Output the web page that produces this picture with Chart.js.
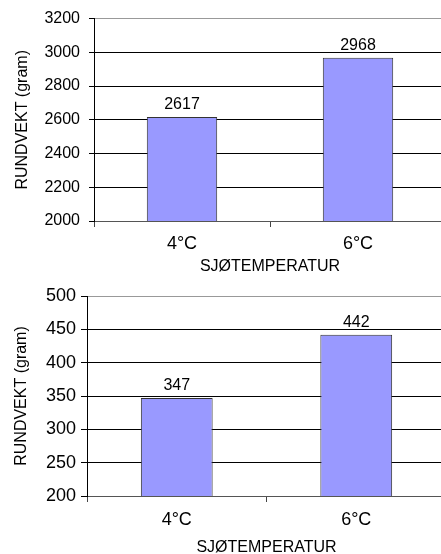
<!DOCTYPE html>
<html>
<head>
<meta charset="utf-8">
<script src="https://cdn.jsdelivr.net/npm/chart.js@4"></script>
<style>
  html, body { margin: 0; padding: 0; background: #fff; overflow: hidden; width: 441px; height: 554px; }
  .box { position: absolute; left: 0; width: 446px; }
  #box1 { top: 0; height: 277px; }
  #box2 { top: 277px; height: 280px; }
</style>
</head>
<body>
<div class="box" id="box1"><canvas id="chartTop"></canvas></div>
<div class="box" id="box2"><canvas id="chartBottom"></canvas></div>
<script>
// Data
var categories = ['4°C', '6°C'];
var weightTop = [2617, 2968];
var weightBottom = [347, 442];
var yTicksTop = [2000, 2200, 2400, 2600, 2800, 3000, 3200];
var yTicksBottom = [200, 250, 300, 350, 400, 450, 500];

var xTitle = 'SJØTEMPERATUR';
var yTitle = 'RUNDVEKT (gram)';

Chart.defaults.font.family = "'Liberation Sans', Arial, sans-serif";
Chart.defaults.color = '#000';

// Draws the value above every bar
var barValues = {
    id: 'barValues',
    afterDatasetsDraw: function(chart, args, opts) {
        var ctx = chart.ctx;
        var meta = chart.getDatasetMeta(0);
        var values = chart.data.datasets[0].data;
        ctx.save();
        ctx.font = opts.size + "px 'Liberation Sans', Arial, sans-serif";
        ctx.fillStyle = '#000';
        ctx.textAlign = 'center';
        ctx.textBaseline = 'alphabetic';
        meta.data.forEach(function(bar, i) {
            ctx.fillText(String(values[i]), bar.x, bar.y - 8);
        });
        ctx.restore();
    }
};

function makeChart(id, values, yTicks, s) {
    var min = yTicks[0];
    var max = yTicks[yTicks.length - 1];
    var ctx = document.getElementById(id).getContext('2d');
    return new Chart(ctx, {
        type: 'bar',
        data: {
            labels: categories,
            datasets: [{
                data: values,
                backgroundColor: '#9999FF',
                borderColor: '#333',
                borderWidth: 1,
                barPercentage: 0.4,
                categoryPercentage: 1.0
            }]
        },
        options: {
            responsive: true,
            maintainAspectRatio: false,
            animation: false,
            layout: { padding: { top: s.top, left: 0, right: 0, bottom: 0 } },
            plugins: {
                legend: { display: false },
                tooltip: { enabled: false },
                barValues: { size: s.valueSize }
            },
            scales: {
                x: {
                    afterFit: function(scale) { scale.height = s.xHeight; },
                    grid: {
                        display: true,
                        drawOnChartArea: false,
                        drawTicks: true,
                        tickLength: 6,
                        color: '#444',
                        offset: true
                    },
                    border: { color: '#555' },
                    ticks: { font: { size: s.xTickSize }, padding: s.xTickPad, color: '#000' },
                    title: {
                        display: true,
                        text: xTitle,
                        font: { size: 16 },
                        color: '#000',
                        padding: { top: 0, bottom: s.xTitlePad }
                    }
                },
                y: {
                    min: min,
                    max: max,
                    afterFit: function(scale) { scale.width = s.yWidth; },
                    afterBuildTicks: function(scale) {
                        scale.ticks = yTicks.map(function(v) { return { value: v }; });
                    },
                    grid: {
                        color: function(c) {
                            if (c.tick && c.tick.value === max) return '#999';
                            if (c.tick && c.tick.value === min) return '#555';
                            return '#000';
                        },
                        tickColor: '#000',
                        tickLength: s.yTickLen
                    },
                    border: { color: '#000' },
                    ticks: {
                        font: { size: s.yTickSize },
                        padding: s.yTickPad,
                        color: '#000',
                        callback: function(v) { return String(v); }
                    },
                    title: {
                        display: true,
                        text: yTitle,
                        font: { size: 16 },
                        color: '#000',
                        padding: { top: s.yTitlePad, bottom: 0 }
                    }
                }
            }
        },
        plugins: [barValues]
    });
}

makeChart('chartTop', weightTop, yTicksTop, {
    top: 16, xHeight: 56, yWidth: 94, yTickLen: 5, yTickPad: 9, yTickSize: 16,
    xTickSize: 18, xTickPad: 6, xTitlePad: 0.5, yTitlePad: 13, valueSize: 16
});

makeChart('chartBottom', weightBottom, yTicksBottom, {
    top: 19, xHeight: 61, yWidth: 87, yTickLen: 6, yTickPad: 5, yTickSize: 18,
    xTickSize: 18, xTickPad: 7, xTitlePad: 0, yTitlePad: 12, valueSize: 16
});
</script>
</body>
</html>
